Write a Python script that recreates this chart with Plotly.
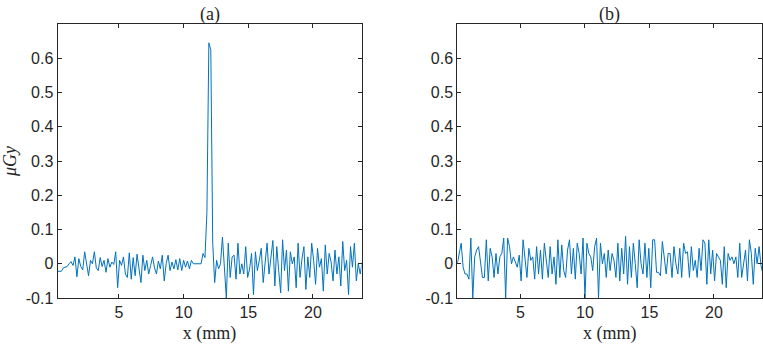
import numpy as np
import plotly.graph_objects as go

# sample grid (mm)
x_start = 0.1
x_step = 0.15
n_samples = 159
x_mm = np.round(x_start + x_step * np.arange(n_samples), 3)

dose_a = [
    -0.022, -0.022, -0.022, -0.022, -0.012, -0.010, -0.008, 0.000, 0.006, -0.005,
    0.020, -0.038, 0.015, -0.008, -0.018, 0.035, -0.005, -0.035, 0.010, 0.000,
    0.035, -0.012, -0.020, 0.018, -0.008, 0.010, -0.025, 0.015, -0.010, 0.005,
    -0.002, 0.035, -0.070, 0.010, -0.005, 0.020, -0.030, -0.040, 0.032, -0.045,
    0.018, -0.035, 0.028, -0.010, -0.055, 0.025, -0.020, 0.010, -0.030, -0.005,
    0.020, -0.012, -0.030, 0.008, -0.015, 0.025, -0.050, 0.000, 0.025, -0.020,
    0.005, -0.015, 0.012, -0.018, 0.015, -0.020, 0.010, -0.010, 0.008, -0.015,
    0.010, 0.000, 0.000, 0.000, 0.000, 0.000, 0.030, 0.018, 0.150, 0.645,
    0.625, 0.060, -0.055, 0.010, -0.015, 0.000, 0.078, -0.030, -0.100, 0.060,
    -0.040, 0.020, 0.025, -0.045, 0.060, -0.030, 0.000, -0.030, 0.050, -0.040,
    -0.015, 0.030, -0.090, 0.035, -0.020, 0.010, 0.045, -0.055, 0.000, 0.060,
    -0.030, 0.020, 0.068, -0.065, 0.050, -0.020, -0.085, 0.070, -0.020, 0.040,
    -0.080, 0.035, 0.000, 0.020, -0.070, 0.060, -0.040, 0.015, 0.050, -0.075,
    0.020, -0.040, 0.060, 0.010, -0.060, 0.045, -0.010, 0.015, -0.080, 0.055,
    -0.030, 0.030, 0.005, -0.050, 0.040, -0.030, 0.020, -0.065, 0.065, -0.020,
    0.010, -0.090, 0.050, -0.010, 0.060, -0.050, 0.000, -0.030, 0.005,
]

dose_b = [
    0.000, 0.030, 0.060, -0.010, -0.030, -0.030, -0.045, 0.075, -0.100, 0.020,
    0.040, 0.050, 0.010, -0.040, -0.040, 0.070, -0.050, 0.045, 0.020, -0.040,
    0.030, -0.030, 0.020, 0.030, 0.075, -0.100, 0.075, 0.050, 0.000, 0.020,
    0.005, -0.010, 0.025, -0.050, 0.070, 0.005, -0.040, 0.045, 0.010, 0.020,
    -0.045, 0.050, -0.030, 0.040, -0.045, 0.060, 0.000, -0.040, 0.050, -0.030,
    0.020, -0.060, 0.070, -0.040, 0.055, -0.020, -0.040, 0.040, 0.070, -0.030,
    0.045, -0.045, 0.060, 0.030, -0.030, 0.075, -0.100, 0.060, 0.030, 0.020,
    -0.020, 0.050, 0.075, -0.100, 0.060, 0.000, 0.030, -0.040, 0.040, -0.020,
    0.030, 0.010, -0.040, 0.060, -0.050, 0.045, -0.030, 0.080, -0.060, 0.050,
    -0.040, 0.060, 0.000, -0.070, 0.070, 0.000, -0.030, 0.060, -0.040, 0.045,
    -0.070, 0.070, 0.070, -0.025, -0.025, -0.035, 0.065, 0.020, -0.030, 0.030,
    0.030, -0.040, 0.050, 0.000, -0.030, 0.045, -0.040, 0.060, 0.030, 0.035,
    -0.040, 0.050, -0.020, 0.010, -0.040, 0.045, -0.020, 0.070, 0.060, -0.060,
    0.070, -0.030, 0.040, -0.050, 0.030, 0.020, 0.010, -0.060, 0.050, -0.070,
    0.030, 0.010, 0.020, 0.000, 0.020, -0.040, 0.060, -0.040, 0.000, 0.040,
    -0.050, 0.070, 0.030, -0.060, 0.045, 0.000, 0.050, -0.005, -0.030,
]

x_tickvals = [5, 10, 15, 20]
x_ticktext = ["5", "10", "15", "20"]
y_tickvals = [-0.1, 0, 0.1, 0.2, 0.3, 0.4, 0.5, 0.6]
y_ticktext = ["-0.1", "0", "0.1", "0.2", "0.3", "0.4", "0.5", "0.6"]
panel_titles = ["(a)", "(b)"]
x_title = "x (mm)"
y_title = "<i>μGy</i>"

W, H = 763, 346
line_color = "#0072BD"
axis_color = "#262626"
tick_font = dict(family="Liberation Sans, Arial, sans-serif", size=16, color=axis_color)
serif_font = dict(family="Liberation Serif, Times New Roman, serif", size=18, color=axis_color)

fig = go.Figure()
fig.add_trace(go.Scatter(x=x_mm, y=dose_a, mode="lines", line=dict(color=line_color, width=1),
                         xaxis="x", yaxis="y", showlegend=False, hoverinfo="skip"))
fig.add_trace(go.Scatter(x=x_mm, y=dose_b, mode="lines", line=dict(color=line_color, width=1),
                         xaxis="x2", yaxis="y2", showlegend=False, hoverinfo="skip"))

y_dom = [1 - 298 / H, 1 - 24 / H]
x1_dom = [57.5 / W, 361.5 / W]
x2_dom = [457.3 / W, 762.3 / W]

common_axis = dict(showgrid=False, zeroline=False, showline=True, linecolor=axis_color, linewidth=1,
                   mirror="ticks", ticks="inside", ticklen=4, tickcolor=axis_color, tickwidth=1,
                   tickfont=tick_font, automargin=False)

fig.update_layout(
    width=W, height=H, margin=dict(l=0, r=0, t=0, b=0, autoexpand=False),
    paper_bgcolor="white", plot_bgcolor="white",
    xaxis=dict(domain=x1_dom, anchor="y", range=[0.25, 23.75], tickvals=x_tickvals, ticktext=x_ticktext,
               title=dict(text=x_title, font=serif_font, standoff=6), **common_axis),
    yaxis=dict(domain=y_dom, anchor="x", range=[-0.1, 0.7], tickvals=y_tickvals, ticktext=y_ticktext,
               title=dict(text=y_title, font=dict(family="Liberation Serif, serif", size=18, color=axis_color), standoff=8),
               **common_axis),
    xaxis2=dict(domain=x2_dom, anchor="y2", range=[0.1, 23.75], tickvals=x_tickvals, ticktext=x_ticktext,
                title=dict(text=x_title, font=serif_font, standoff=6), **common_axis),
    yaxis2=dict(domain=y_dom, anchor="x2", range=[-0.1, 0.7], tickvals=y_tickvals, ticktext=y_ticktext,
                **common_axis),
    annotations=[
        dict(text=panel_titles[0], x=(x1_dom[0] + x1_dom[1]) / 2, y=1 - 2 / H, xref="paper", yref="paper",
             xanchor="center", yanchor="top", showarrow=False, font=serif_font),
        dict(text=panel_titles[1], x=(x2_dom[0] + x2_dom[1]) / 2, y=1 - 2 / H, xref="paper", yref="paper",
             xanchor="center", yanchor="top", showarrow=False, font=serif_font),
    ],
)

fig.write_html("out.html", config={"displayModeBar": False, "staticPlot": True},
               post_script="document.body.style.margin='0';document.body.style.padding='0';")
